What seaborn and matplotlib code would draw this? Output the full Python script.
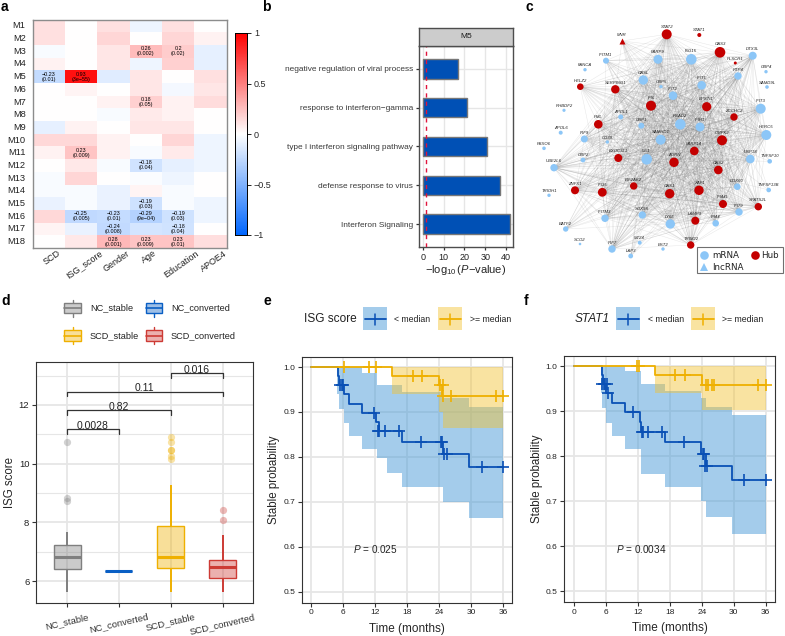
import numpy as np
import pandas as pd
import matplotlib
matplotlib.use('Agg')
import matplotlib.pyplot as plt
import seaborn as sns
from matplotlib.collections import LineCollection
from matplotlib.colors import LinearSegmentedColormap, to_rgba
from matplotlib.patches import Rectangle
from matplotlib.transforms import ScaledTranslation

W, H = 785, 636

# panel a
modules = ['M%d' % i for i in range(1, 19)]
traits = ['SCD', 'ISG_score', 'Gender', 'Age', 'Education', 'APOE4']
corr = [
    [.12, 0, .12, -.07, .12, 0],
    [.12, 0, .16, 0, .16, .05],
    [-.03, 0, .10, .26, .20, -.10],
    [.05, 0, .10, -.07, .18, -.10],
    [-.23, .93, -.12, .10, 0, .12],
    [0, .04, 0, .10, -.04, .10],
    [0, 0, .05, .18, .05, .14],
    [0, 0, -.03, .08, .05, 0],
    [-.10, .05, 0, .10, .10, 0],
    [.15, .15, .05, 0, .16, -.07],
    [.05, .23, .05, -.03, .08, -.07],
    [0, .09, -.03, -.18, -.10, -.07],
    [-.03, .16, 0, -.02, -.07, 0],
    [-.03, -.03, -.08, .04, -.03, 0],
    [-.08, -.03, -.08, -.19, -.03, -.07],
    [.15, -.25, -.23, -.29, -.19, -.07],
    [.04, -.08, -.24, -.17, -.18, 0],
    [0, .09, .28, .23, .23, .13],
]
corr_labels = {
    ('M3', 'Age'): '0.26\n(0.002)', ('M3', 'Education'): '0.2\n(0.02)',
    ('M5', 'SCD'): '\u22120.23\n(0.01)', ('M5', 'ISG_score'): '0.93\n(3e\u221255)',
    ('M7', 'Age'): '0.18\n(0.05)', ('M11', 'ISG_score'): '0.23\n(0.009)',
    ('M12', 'Age'): '\u22120.18\n(0.04)', ('M15', 'Age'): '\u22120.19\n(0.03)',
    ('M16', 'ISG_score'): '\u22120.25\n(0.005)', ('M16', 'Gender'): '\u22120.23\n(0.01)',
    ('M16', 'Age'): '\u22120.29\n(9e\u221204)', ('M16', 'Education'): '\u22120.19\n(0.03)',
    ('M17', 'Gender'): '\u22120.24\n(0.008)', ('M17', 'Education'): '\u22120.18\n(0.04)',
    ('M18', 'Gender'): '0.28\n(0.001)', ('M18', 'Age'): '0.23\n(0.009)',
    ('M18', 'Education'): '0.23\n(0.01)',
}

# panel b
go_terms = ['negative regulation of viral process', 'response to interferon\u2212gamma',
            'type I interferon signaling pathway', 'defense response to virus',
            'Interferon Signaling']
go_values = [17, 21, 31, 37, 42]

node_names = ['STAT2', 'STAT1', 'MNR', 'OAS3', 'DTX3L', 'PLSCR1', 'ISG15', 'PARP9', 'IFITM1', 'FANCA',
              'GBP4', 'RTP4', 'OASL', 'HELZ2', 'SERPING1', 'GBP5', 'IFIT1', 'SAMD9L', 'IFIT2', 'IFIT3',
              'EPSTI1', 'IFI6', 'ZCCHC2', 'RHBDF2', 'APOL1', 'PML', 'RSAD2', 'IFIH1', 'GBP1', 'APOL6',
              'IRF9', 'CD38', 'SAMHD1', 'CMPK2', 'HERC5', 'FBXO6', 'PARP14', 'EXOC3L1', 'MX1', 'GBP2',
              'UBE2L6', 'USP18', 'TNFSF10', 'AGRN', 'OAS2', 'DDX60', 'ZNFX1', 'IFI35', 'EIF2AK2', 'TRIOH1',
              'OAS1', 'XAF1', 'TNFSF13B', 'IFI44L', 'SPATS2L', 'IFI79', 'IFITM3', 'SOX9S', 'LY6E', 'LAMP3',
              'IFI44', 'BATF2', 'SCO2', 'IRF7', 'MT24', 'BST2', 'LAP3', 'TRIM22']
node_x = [666.7, 699.3, 622, 720, 752.7, 735.3, 691.3, 658, 606, 585,
          766, 738, 643.3, 580.3, 615.3, 661, 701.7, 767, 673, 760.7,
          706.7, 651, 734, 564, 620.7, 598.3, 680.3, 700, 641.3, 560.7,
          584.3, 607.3, 660.7, 722, 766.3, 544, 694.3, 618.3, 646.7, 583,
          554, 750.3, 769.7, 674, 718.3, 737.3, 575, 602.3, 633.7, 549,
          669.7, 699, 768.7, 723, 758.3, 739, 605, 642.3, 670.3, 695.3,
          715.7, 565.7, 580, 612, 639.7, 663, 630.7, 690.7]
node_y = [34.3, 35, 41, 52.3, 55.7, 63, 59.3, 59.3, 60.7, 69.7,
          71.7, 76, 80, 86.7, 89.3, 86.7, 85.3, 87, 95.7, 108.7,
          106.7, 105.7, 117, 110.3, 117, 124.3, 124.3, 127, 125.7, 132.7,
          139, 142, 139.7, 140.3, 135, 148.3, 151, 158, 159.3, 160,
          167.7, 159, 161.3, 162.3, 170, 186.7, 190.3, 192.3, 186, 195.3,
          193.7, 190.3, 190, 204, 206.7, 212, 218.3, 215, 224, 220.7,
          223.3, 229, 244, 249, 242.7, 249, 256, 245]
node_r = [5, 2, 3, 5.3, 4, 1.5, 5.3, 4.5, 3, 1.7,
          1.7, 3.7, 4.7, 3.3, 4.2, 1.7, 4.3, 1.8, 4.3, 5,
          4.6, 5, 3.7, 1.6, 2.5, 4.3, 5.3, 4.5, 3, 2,
          3.5, 1.7, 5, 5, 5, 1.8, 4.3, 4, 5.3, 2.4,
          3.7, 4.3, 2.3, 4.7, 4.3, 3.3, 4, 4.4, 3.7, 1.7,
          4.7, 4.7, 2.3, 4, 3.7, 3.7, 3.7, 3.7, 4.7, 4,
          3.3, 2.7, 1.3, 3.7, 2, 1.7, 2.4, 3.7]
hub_names = ['STAT2', 'STAT1', 'MNR', 'OAS3', 'PLSCR1', 'HELZ2', 'SERPING1', 'EPSTI1', 'IFI6', 'ZCCHC2',
             'PML', 'CMPK2', 'PARP14', 'EXOC3L1', 'AGRN', 'OAS2', 'ZNFX1', 'IFI35', 'EIF2AK2', 'OAS1',
             'XAF1', 'IFI44L', 'SPATS2L', 'LAMP3', 'TRIM22']
lnc_names = ['MNR']

# panel d, box stats are low whisker, q1, median, q3, high whisker
d_groups = ['NC_stable', 'NC_converted', 'SCD_stable', 'SCD_converted']
d_stats = [[5.65, 6.42, 6.83, 7.23, 7.68],
           [6.36, 6.36, 6.36, 6.36, 6.36],
           [5.65, 6.44, 6.82, 7.89, 9.28],
           [5.62, 6.10, 6.50, 6.72, 7.58]]
d_outliers = [[10.73, 8.83, 8.74], [], [10.9, 10.75, 10.48, 10.45, 10.25, 10.15], [8.42, 8.07]]
d_colors = ['#7F7F7F', '#0A5FC4', '#EFB000', '#CD3B35']
d_brackets = [(0, 1, 11.18, '0.0028'), (0, 2, 11.82, '0.82'), (0, 3, 12.45, '0.11'), (2, 3, 13.09, '0.016')]

# panel e
e_low_t = [0, 5, 5.15, 5.3, 6.3, 7.1, 9.6, 12.3, 12.7, 17, 24.8, 29.7, 36]
e_low_s = [1, 1, .98, .96, .94, .918, .898, .878, .857, .833, .807, .778, .778]
e_low_cens_t = [5.5, 5.8, 6, 11.9, 12.6, 12.8, 13.9, 16.6, 20.7, 24.4, 24.6, 25, 25.6, 32, 36]
e_low_cens_s = [.96, .96, .96, .898, .857, .857, .857, .857, .833, .833, .833, .807, .807, .778, .778]
e_low_ci_t = [5, 5.2, 6.3, 7.2, 9.6, 12.4, 14.2, 17, 24.7, 29.7, 36]
e_low_ci_l = [.94, .907, .875, .847, .818, .797, .764, .734, .70, .664, .664]
e_low_ci_u = [1, 1, 1, 1, .986, .96, .96, .945, .93, .912, .912]
e_high_t = [0, 15.2, 24, 24.6, 36]
e_high_s = [1, .98, .96, .935, .935]
e_high_cens_t = [6.2, 11, 12.2, 19.2, 20.9, 24.2, 24.8, 24.7, 26.2, 34.6, 36]
e_high_cens_s = [1, 1, 1, .98, .98, .96, .96, .935, .935, .935, .935]
e_high_ci_t = [15.2, 24, 24.8, 36]
e_high_ci_l = [.94, .90, .865, .865]
e_high_ci_u = [1, 1, 1, 1]

# panel f
f_low_t = [0, 5, 5.2, 5.5, 6.1, 7.1, 9.5, 12.4, 12.6, 17, 23.9, 24.7, 29.7, 36]
f_low_s = [1, 1, .98, .96, .94, .918, .898, .876, .855, .831, .805, .778, .748, .748]
f_low_cens_t = [5.3, 5.6, 5.9, 6.2, 6.3, 11, 12.7, 12.9, 13.9, 16.6, 20.7, 24.3, 24.5, 24.6, 25, 32, 36]
f_low_cens_s = [.96, .96, .96, .96, .94, .898, .855, .855, .855, .855, .831, .805, .805, .778, .778, .748, .748]
f_low_ci_t = [5, 5.2, 6.1, 7.2, 9.5, 12.5, 17, 23.8, 24.7, 29.7, 36]
f_low_ci_l = [.94, .907, .875, .845, .817, .761, .731, .70, .665, .628, .628]
f_low_ci_u = [1, 1, 1, 1, .99, .96, .945, .93, .91, .892, .892]
f_high_t = [0, 15.2, 24.1, 36]
f_high_s = [1, .98, .958, .958]
f_high_cens_t = [11.9, 12.3, 19, 20.8, 24.7, 25.1, 26, 26.3, 34.6, 36]
f_high_cens_s = [1, 1, .98, .98, .958, .958, .958, .958, .958, .958]
f_high_ci_t = [15.2, 24.1, 36]
f_high_ci_l = [.94, .903, .903]
f_high_ci_u = [1, 1, 1]

km_ticks = [0, 6, 12, 18, 24, 30, 36]
km_yticks = [.5, .6, .7, .8, .9, 1.0]
blue = '#0A50B5'
orange = '#EFB000'
blue_fill = to_rgba('#4A9BD8', .5)
orange_fill = to_rgba('#F2C230', .45)
hub_color = '#C40000'
mrna_color = '#8CC6F7'
dark = '#333333'
grid_color = '#E6E6E6'

sns.set_theme(style='white')
plt.rcParams['font.family'] = ['Liberation Sans', 'DejaVu Sans']
plt.rcParams['mathtext.fontset'] = 'custom'
plt.rcParams['mathtext.rm'] = 'Liberation Sans'
plt.rcParams['mathtext.it'] = 'Liberation Sans:italic'
plt.rcParams['axes.unicode_minus'] = True

fig = plt.figure(figsize=(W / 100, H / 100), dpi=100)


def px_axes(left, top, right, bottom):
    return fig.add_axes([left / W, 1 - bottom / H, (right - left) / W, (bottom - top) / H])


def style_frame(ax, color=dark, lw=.8):
    for s in ax.spines.values():
        s.set_visible(True)
        s.set_color(color)
        s.set_linewidth(lw)


def plot_heatmap():
    ax = px_axes(32.5, 19.5, 226.7, 248)
    cax = px_axes(235, 33, 247, 235)
    df = pd.DataFrame(corr, index=modules, columns=traits)
    annot = pd.DataFrame('', index=modules, columns=traits)
    for (m, t), s in corr_labels.items():
        annot.loc[m, t] = s
    cmap = LinearSegmentedColormap.from_list('bwr2', ['#0066FF', 'white', '#FF0000'])
    sns.heatmap(df, ax=ax, cmap=cmap, vmin=-1, vmax=1, annot=annot, fmt='', cbar_ax=cax,
                xticklabels=True, yticklabels=True,
                annot_kws={'size': 3.9, 'color': 'black', 'linespacing': 1.0},
                cbar_kws={'ticks': [-1, -.5, 0, .5, 1]})
    style_frame(ax, '#8C8C8C', 1)
    ax.tick_params(axis='x', length=0, pad=.5)
    ax.tick_params(axis='y', length=0, pad=5)
    ax.set_xticklabels(traits, rotation=35, ha='center', fontsize=6.5, color='#222222')
    ax.set_yticklabels(modules, rotation=0, fontsize=6.7, color='#222222')
    shift = ScaledTranslation(3 / 100, 0, fig.dpi_scale_trans)
    for label in ax.get_xticklabels():
        label.set_transform(label.get_transform() + shift)
    ax.set_xlabel('')
    ax.set_ylabel('')
    cax.set_yticklabels(['\u22121', '\u22120.5', '0', '0.5', '1'], fontsize=6.5)
    cax.tick_params(length=3, width=.6, color='black', pad=2, right=True)
    for s in cax.spines.values():
        s.set_visible(True)
        s.set_color('black')
        s.set_linewidth(.6)


def plot_enrichment():
    ax = px_axes(418.7, 46, 513, 247)
    df = pd.DataFrame({'term': go_terms, 'value': go_values})
    sns.barplot(data=df, y='term', x='value', ax=ax, color='#0050B5', saturation=1, width=.5,
                edgecolor='#777777', linewidth=1, zorder=2)
    ax.axvline(1.3, color='#E0143C', ls=(0, (3, 3)), lw=1, zorder=3)
    ax.set_xlim(-2.07, 43.4)
    ax.set_ylim(4.59, -.59)
    ax.set_xticks([0, 10, 20, 30, 40])
    ax.grid(True, color=grid_color, lw=1)
    ax.set_axisbelow(True)
    style_frame(ax, '#4D4D4D', 1)
    ax.tick_params(axis='y', left=True, length=2.5, width=.9, color=dark, labelsize=5.95, labelcolor='#3A3A3A', pad=1.5)
    ax.tick_params(axis='x', bottom=True, length=2.5, width=.9, color=dark, labelsize=6.5, labelcolor='#222222', pad=1.5)
    ax.set_ylabel('')
    ax.set_xlabel('$-\\log_{10}(\\mathit{P}$\u2212value)', fontsize=8, labelpad=1)
    strip = px_axes(418.7, 28, 513, 46)
    strip.set_facecolor('#CCCCCC')
    strip.set_xticks([])
    strip.set_yticks([])
    style_frame(strip, '#4D4D4D', 1)
    strip.text(.5, .5, 'M5', transform=strip.transAxes, ha='center', va='center', fontsize=6, color='#1A1A1A')


def plot_network(ov):
    x = np.array(node_x)
    y = np.array(node_y)
    r = np.array(node_r)
    segs = []
    for i in range(len(x)):
        for j in range(i + 1, len(x)):
            # big nodes are the well connected ones
            if r[i] + r[j] >= 7.4:
                segs.append([(x[i], y[i]), (x[j], y[j])])
    ov.add_collection(LineCollection(segs, colors='#777777', linewidths=.35, alpha=.18, zorder=1))
    nodes = pd.DataFrame({'name': node_names, 'x': x, 'y': y, 'r': r})
    nodes['hub'] = nodes['name'].isin(hub_names)
    nodes['lnc'] = nodes['name'].isin(lnc_names)
    for (hub, lnc), part in nodes.groupby(['hub', 'lnc']):
        sns.scatterplot(data=part, x='x', y='y', ax=ov, s=(2 * part['r'] * .72) ** 2,
                        color=hub_color if hub else mrna_color, marker='^' if lnc else 'o',
                        linewidth=0, zorder=3, legend=False)
    for n, xi, yi, ri in zip(node_names, x, y, r):
        ov.text(xi, yi - ri - .6, n, ha='center', va='bottom', fontsize=3.1, style='italic',
                color='#222222', zorder=4)
    ov.add_patch(Rectangle((697, 247), 86, 26, fc='white', ec='#707070', lw=.8, zorder=5))
    ov.plot([704], [255], 'o', ms=6.2, color=mrna_color, mew=0, zorder=6)
    ov.plot([704], [267], '^', ms=6.2, color=mrna_color, mew=0, zorder=6)
    ov.plot([754.7], [255], 'o', ms=6.2, color=hub_color, mew=0, zorder=6)
    for xt, yt, s in [(712, 255.5, 'mRNA'), (712, 267.5, 'lncRNA'), (761.5, 256, 'Hub')]:
        ov.text(xt, yt, s, ha='left', va='center', fontsize=6.3, family=['DejaVu Sans'], color='#222222', zorder=6)


def plot_boxes():
    ax = px_axes(36, 362.3, 253, 603.3)
    rows = [(g, v) for g, st in zip(d_groups, d_stats) for v in st]
    df = pd.DataFrame(rows, columns=['group', 'score'])
    for g, c in zip(d_groups, d_colors):
        sns.boxplot(data=df[df['group'] == g], x='group', y='score', order=d_groups, ax=ax, color=c,
                    saturation=1, width=.52, whis=(0, 100), showfliers=False, showcaps=False,
                    boxprops={'facecolor': to_rgba(c, .4), 'edgecolor': c, 'linewidth': 1},
                    medianprops={'color': c, 'linewidth': 2.2},
                    whiskerprops={'color': c, 'linewidth': 1.4}, zorder=3)
    for i, (vals, c) in enumerate(zip(d_outliers, d_colors)):
        if vals:
            sns.scatterplot(x=[i] * len(vals), y=vals, ax=ax, color=c, alpha=.35, s=27, linewidth=0, zorder=3)
    for a, b, yb, label in d_brackets:
        ax.plot([a, a, b, b], [yb - .16, yb, yb, yb - .16], color=dark, lw=.9, zorder=4)
        ax.text((a + b) / 2, yb - .06, label, ha='center', va='bottom', fontsize=7.5, color='#222222')
    ax.set_xlim(-.6, 3.585)
    ax.set_ylim(5.25, 13.45)
    ax.set_yticks([6, 8, 10, 12])
    ax.set_yticks([7, 9, 11, 13], minor=True)
    ax.grid(True, which='major', color=grid_color, lw=1.3)
    ax.grid(True, which='minor', axis='y', color=grid_color, lw=.8)
    ax.set_axisbelow(True)
    style_frame(ax)
    ax.tick_params(axis='both', which='major', length=2.8, width=.8, color=dark, left=True, bottom=True, pad=2)
    ax.tick_params(axis='y', labelsize=6.8, labelcolor='#222222')
    ax.tick_params(axis='x', pad=3.5)
    ax.set_xticks(range(4))
    ax.set_xticklabels(d_groups, rotation=13, ha='center', fontsize=6.8, color='#333333')
    ax.set_xlabel('')
    ax.set_ylabel('ISG score', fontsize=8.3, labelpad=2)


def plot_km(box, xlim, low, high, ptext):
    ax = px_axes(*box)
    lt, ls, lct, lcs, cit, cil, ciu = low
    ht, hs, hct, hcs, hit, hil, hiu = high
    ax.fill_between(cit, cil, ciu, step='post', color=blue_fill, lw=0, zorder=2)
    ax.fill_between(hit, hil, hiu, step='post', color=orange_fill, lw=0, zorder=2)
    sns.lineplot(x=lt, y=ls, ax=ax, drawstyle='steps-post', estimator=None, color=blue, lw=1.3, zorder=3)
    sns.lineplot(x=ht, y=hs, ax=ax, drawstyle='steps-post', estimator=None, color=orange, lw=1.3, zorder=3)
    sns.scatterplot(x=lct, y=lcs, ax=ax, marker='+', color=blue, s=64, linewidth=1.2, zorder=4)
    sns.scatterplot(x=hct, y=hcs, ax=ax, marker='+', color=orange, s=64, linewidth=1.2, zorder=4)
    ax.set_xlim(*xlim)
    ax.set_ylim(.4755, 1.023)
    ax.set_xticks(km_ticks)
    ax.set_yticks(km_yticks)
    ax.set_yticklabels(['%.1f' % v for v in km_yticks])
    ax.grid(True, color=grid_color, lw=1.3)
    ax.set_axisbelow(True)
    style_frame(ax)
    ax.tick_params(length=2.8, width=.8, color=dark, left=True, bottom=True, labelsize=6, labelcolor='#222222', pad=2)
    ax.set_xlabel('Time (months)', fontsize=8.5, labelpad=4.5)
    ax.set_ylabel('Stable probability', fontsize=8.3, labelpad=2)
    ax.text(7.9, .595, ptext, fontsize=7.2, va='center', color='#222222')


def km_legend(ov, title, title_x, title_style, blue_x, blue_text_x, orange_x, orange_text_x):
    ov.text(title_x, 319, title, ha='center', va='center', fontsize=8.6, style=title_style, color='#222222')
    for x0, tx, fc, c, s in [(blue_x, blue_text_x, blue_fill, blue, '< median'),
                             (orange_x, orange_text_x, orange_fill, orange, '>= median')]:
        ov.add_patch(Rectangle((x0, 306.7), 24, 23.6, fc=fc, ec='none', zorder=2))
        ov.plot([x0 + 1.5, x0 + 22.5], [319, 319], color=c, lw=1.3, zorder=3)
        ov.plot([x0 + 12, x0 + 12], [313.5, 324.5], color=c, lw=1.1, zorder=3)
        ov.text(tx, 319, s, ha='center', va='center', fontsize=6.3, color='#222222')


def box_legend(ov):
    spots = [(64.3, 308.2, 90), (146, 308.2, 171), (64.3, 335.5, 90), (146, 335.5, 171)]
    for (x0, yc, tx), g, c in zip(spots, d_groups, d_colors):
        ov.plot([x0 + 8.2, x0 + 8.2], [yc - 8.3, yc + 8.3], color=c, lw=1, zorder=2)
        ov.add_patch(Rectangle((x0, yc - 5.2), 16.4, 10.4, fc='white', ec='none', zorder=3))
        ov.add_patch(Rectangle((x0, yc - 5.2), 16.4, 10.4, fc=to_rgba(c, .4), ec=c, lw=1, zorder=3))
        ov.plot([x0, x0 + 16.4], [yc, yc], color=c, lw=1.2, zorder=4)
        ov.text(tx, yc, g, ha='left', va='center', fontsize=6.6, color='#222222')


def main():
    plot_heatmap()
    plot_enrichment()
    plot_boxes()
    plot_km((301.7, 356.7, 512.3, 602.7), (-1.69, 37.74),
            (e_low_t, e_low_s, e_low_cens_t, e_low_cens_s, e_low_ci_t, e_low_ci_l, e_low_ci_u),
            (e_high_t, e_high_s, e_high_cens_t, e_high_cens_s, e_high_ci_t, e_high_ci_l, e_high_ci_u),
            r'$\mathit{P}$ = 0.025')
    plot_km((564.3, 356, 775, 602.3), (-1.82, 37.75),
            (f_low_t, f_low_s, f_low_cens_t, f_low_cens_s, f_low_ci_t, f_low_ci_l, f_low_ci_u),
            (f_high_t, f_high_s, f_high_cens_t, f_high_cens_s, f_high_ci_t, f_high_ci_l, f_high_ci_u),
            r'$\mathit{P}$ = 0.0034')

    # everything placed in picture pixels: network, legends, panel letters
    ov = fig.add_axes([0, 0, 1, 1], zorder=10)
    ov.patch.set_alpha(0)
    plot_network(ov)
    box_legend(ov)
    km_legend(ov, 'ISG score', 330, 'normal', 363, 412, 438, 490.7)
    km_legend(ov, 'STAT1', 592.7, 'italic', 616, 666, 691, 743)
    for s, x, y in [('a', 1, 7), ('b', 262, 7), ('c', 525, 7), ('d', 1, 301), ('e', 263, 301), ('f', 524, 301)]:
        ov.text(x, y, s, fontsize=10, fontweight='bold', ha='left', va='center', color='black')
    ov.set_xlim(0, W)
    ov.set_ylim(H, 0)
    ov.axis('off')

    fig.savefig('out.png', dpi=100)


if __name__ == '__main__':
    main()
